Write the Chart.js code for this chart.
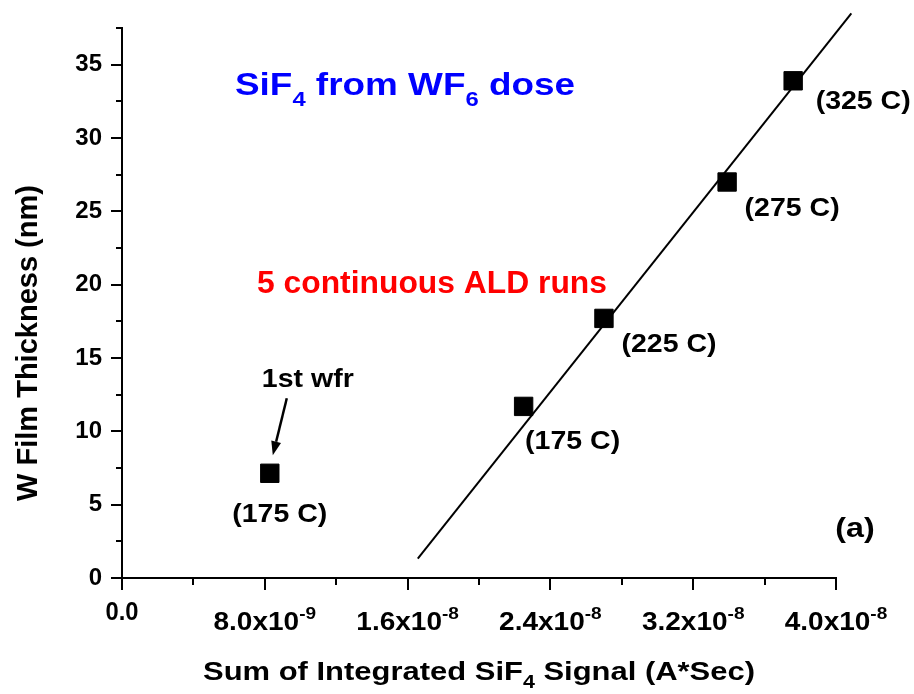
<!DOCTYPE html>
<html><head><meta charset="utf-8">
<script src="https://cdn.jsdelivr.net/npm/chart.js@4.4.1/dist/chart.umd.min.js"></script>
<style>html,body{margin:0;padding:0;background:#fff;}canvas{display:block;background:#fff;}</style>
</head><body>
<canvas id="c" width="914" height="694"></canvas>
<script>
// ---- data ----
const firstWaferSignal = [8.28e-9];
const firstWaferThickness = [7.14];
const firstWaferTemp = ['(175 C)'];
const runSignal = [2.25e-8, 2.70e-8, 3.39e-8, 3.76e-8];
const runThickness = [11.7, 17.7, 27.0, 33.9];
const runTemps = ['(175 C)', '(225 C)', '(275 C)', '(325 C)'];
const fitSignal = [1.657e-8, 4.086e-8];
const fitThickness = [1.32, 38.5];
const xTickValues = [0, 8e-9, 1.6e-8, 2.4e-8, 3.2e-8, 4e-8];
const xTickMantissas = ['0.0', '8.0x10', '1.6x10', '2.4x10', '3.2x10', '4.0x10'];
const xTickExponents = ['', '-9', '-8', '-8', '-8', '-8'];

// ---- layout (pixel offsets, not data) ----
const firstLabelOffset = [10, 49];
const firstNoteOffset = [38, -86];
const runLabelOffsets = [[49, 43], [65, 34], [65, 34], [70, 28]];
const FONT = '"Liberation Sans", Arial, Helvetica, sans-serif';
const SX = 1.14;
Chart.defaults.font.family = FONT;
Chart.defaults.color = '#000';

function drawRich(ctx, parts, x, y, o) {
  o = o || {};
  ctx.save();
  let w = 0;
  parts.forEach(p => { ctx.font = 'bold ' + p.s + 'px ' + FONT; p.w = ctx.measureText(p.t).width; w += p.w; });
  const sx = o.width ? o.width / w : (o.sx || SX);
  ctx.translate(x, y);
  if (o.rot) ctx.rotate(o.rot);
  ctx.scale(sx, 1);
  let cx = o.align === 'left' ? 0 : -w / 2;
  ctx.fillStyle = o.color || '#000';
  ctx.textBaseline = 'alphabetic';
  ctx.textAlign = 'left';
  parts.forEach(p => { ctx.font = 'bold ' + p.s + 'px ' + FONT; ctx.fillText(p.t, cx, p.dy || 0); cx += p.w; });
  ctx.restore();
}

const decor = {
  id: 'decor',
  afterDraw(chart) {
    const ctx = chart.ctx, xs = chart.scales.x, ys = chart.scales.y, ca = chart.chartArea;
    ctx.save();
    ctx.strokeStyle = '#000'; ctx.lineWidth = 2; ctx.lineCap = 'butt';
    // y ticks (major + minor)
    const ystep = ys.ticks[1].value - ys.ticks[0].value;
    for (let v = ys.min; v <= ys.max + 1e-9; v += ystep / 2) {
      const major = Math.abs(v / ystep - Math.round(v / ystep)) < 1e-6;
      const py = Math.round(ys.getPixelForValue(v));
      ctx.beginPath(); ctx.moveTo(ca.left - (major ? 11 : 6), py); ctx.lineTo(ca.left, py); ctx.stroke();
    }
    // x ticks (major + minor)
    const xstep = xTickValues[1] - xTickValues[0];
    for (let i = 0; i <= 2 * (xTickValues.length - 1); i++) {
      const v = xs.min + i * xstep / 2;
      if (v > xs.max * (1 + 1e-9)) break;
      const major = i % 2 === 0;
      const px = Math.round(xs.getPixelForValue(v));
      ctx.beginPath(); ctx.moveTo(px, ca.bottom); ctx.lineTo(px, ca.bottom + (major ? 12 : 7)); ctx.stroke();
    }
    ctx.restore();
    // x tick labels
    xTickValues.forEach((v, i) => {
      const px = xs.getPixelForValue(v);
      if (xTickExponents[i]) {
        drawRich(ctx, [{t: xTickMantissas[i], s: 25}, {t: xTickExponents[i], s: 17, dy: -11}], px, ca.bottom + 52, {sx: 1.12});
      } else {
        drawRich(ctx, [{t: xTickMantissas[i], s: 25}], px, ca.bottom + 42, {sx: 0.95});
      }
    });
    // axis titles
    drawRich(ctx, [{t: 'Sum of Integrated SiF', s: 26}, {t: '4', s: 18, dy: 8}, {t: ' Signal (A*Sec)', s: 26}],
      (ca.left + ca.right) / 2, ca.bottom + 102, {width: 552});
    drawRich(ctx, [{t: 'W Film Thickness (nm)', s: 29}], 37, (ca.top + ca.bottom) / 2 + 40, {rot: -Math.PI / 2, sx: 1.0});
    // annotations
    drawRich(ctx, [{t: 'SiF', s: 31}, {t: '4', s: 20, dy: 11}, {t: ' from WF', s: 31}, {t: '6', s: 20, dy: 11}, {t: ' dose', s: 31}],
      ca.left + 283, ca.top + 67, {width: 340, color: '#0000FF'});
    drawRich(ctx, [{t: '5 continuous ALD runs', s: 32}], ca.left + 310, ca.top + 265, {width: 350, color: '#FF0000'});
    drawRich(ctx, [{t: '(a)', s: 28}], ca.right + 19, ca.bottom - 41, {sx: 1.15});
    // point labels
    const m1 = chart.getDatasetMeta(1).data[0];
    drawRich(ctx, [{t: firstWaferTemp[0], s: 25}], m1.x + firstLabelOffset[0], m1.y + firstLabelOffset[1]);
    drawRich(ctx, [{t: '1st wfr', s: 25}], m1.x + firstNoteOffset[0], m1.y + firstNoteOffset[1]);
    // arrow
    const tx = m1.x + 17, ty = m1.y - 75, hx = m1.x + 3, hy = m1.y - 18;
    const ang = Math.atan2(hy - ty, hx - tx), L = 14, W = 5;
    const bx = hx - L * Math.cos(ang), by = hy - L * Math.sin(ang);
    ctx.save();
    ctx.strokeStyle = '#000'; ctx.fillStyle = '#000'; ctx.lineWidth = 2.5;
    ctx.beginPath(); ctx.moveTo(tx, ty); ctx.lineTo(bx, by); ctx.stroke();
    ctx.beginPath(); ctx.moveTo(hx, hy);
    ctx.lineTo(bx + W * Math.sin(ang), by - W * Math.cos(ang));
    ctx.lineTo(bx - W * Math.sin(ang), by + W * Math.cos(ang));
    ctx.closePath(); ctx.fill();
    ctx.restore();
    chart.getDatasetMeta(2).data.forEach((pt, i) => {
      drawRich(ctx, [{t: runTemps[i], s: 25}], pt.x + runLabelOffsets[i][0], pt.y + runLabelOffsets[i][1]);
    });
  }
};

const pts = (xa, ya) => xa.map((x, i) => ({x: x, y: ya[i]}));

new Chart(document.getElementById('c'), {
  type: 'scatter',
  data: {
    datasets: [
      {label: 'Linear fit', data: pts(fitSignal, fitThickness), showLine: true, borderColor: '#000', borderWidth: 2,
       pointRadius: 0, clip: false, fill: false},
      {label: '1st wfr', data: pts(firstWaferSignal, firstWaferThickness), pointStyle: 'rect', pointRadius: 13,
       backgroundColor: '#000', borderColor: '#000', borderWidth: 1},
      {label: '5 continuous ALD runs', data: pts(runSignal, runThickness), pointStyle: 'rect', pointRadius: 13,
       backgroundColor: '#000', borderColor: '#000', borderWidth: 1}
    ]
  },
  options: {
    responsive: false,
    animation: false,
    layout: {padding: {left: 0, top: 28, right: 78, bottom: 0}},
    plugins: {legend: {display: false}, tooltip: {enabled: false}},
    scales: {
      x: {
        type: 'linear', position: 'bottom', min: 0, max: 4e-8,
        grid: {drawOnChartArea: false, drawTicks: false},
        border: {display: true, color: '#000', width: 2},
        ticks: {display: false, stepSize: 8e-9},
        afterFit(s) { s.height = 116; s.paddingLeft = 0; s.paddingRight = 0; }
      },
      y: {
        type: 'linear', position: 'left', min: 0, max: 37.5,
        grid: {drawOnChartArea: false, drawTicks: false},
        border: {display: true, color: '#000', width: 2},
        ticks: {stepSize: 5, includeBounds: false, padding: 20, color: '#000', font: {size: 24, weight: 'bold'}},
        afterFit(s) { s.width = 122; s.paddingTop = 0; s.paddingBottom = 0; }
      }
    }
  },
  plugins: [decor]
});
</script>
</body></html>
